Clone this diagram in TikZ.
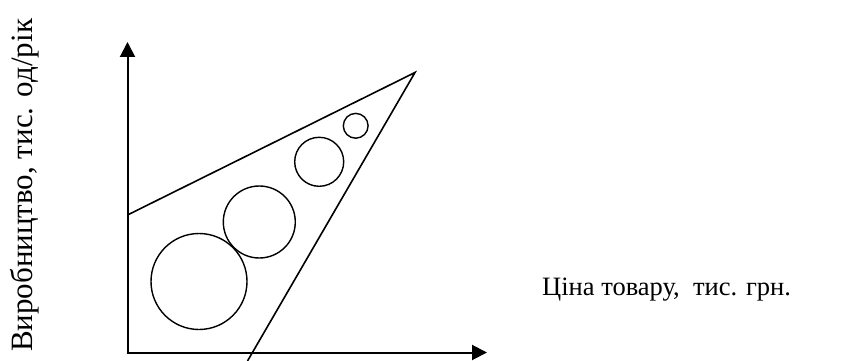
\documentclass[tikz,border=0pt]{standalone}
\usepackage{fontspec}
\setmainfont{Liberation Serif}
\usetikzlibrary{arrows.meta}
\begin{document}
\begin{tikzpicture}[x=1pt,y=-1pt,
  axis/.style={line width=2pt,-{Triangle[length=15pt,width=15pt]}},
  edge/.style={line width=1.6pt},
  ring/.style={line width=1.4pt},
  lbl/.style={inner sep=0pt}]
\useasboundingbox (0,0) rectangle (844,361);
\coordinate (O) at (127.5,352.5);
\coordinate (Ytop) at (127.5,42);
\coordinate (Xend) at (487,352.5);
\coordinate (A) at (127.5,215);
\coordinate (P) at (415,72.5);
\coordinate (B) at (247.5,361);
\draw[axis] (O) -- (Ytop);
\draw[axis] ([xshift=-1pt]O) -- (Xend);
\draw[edge] (A) -- (P) -- (B);
\node[ring,draw,circle,minimum size=96pt,inner sep=0pt] (c1) at (199,281.5) {};
\node[ring,draw,circle,minimum size=72pt,inner sep=0pt] (c2) at (259.3,222) {};
\node[ring,draw,circle,minimum size=49pt,inner sep=0pt] (c3) at (319.2,161.8) {};
\node[ring,draw,circle,minimum size=24.8pt,inner sep=0pt] (c4) at (355.7,125.8) {};
\node[lbl,font=\fontsize{31}{36}\selectfont,rotate=90,anchor=base west] (ylab) at (32,352) {Виробництво, тис. од/рік};
\node[lbl,font=\fontsize{26.5}{31}\selectfont,anchor=base west] (xlab) at (542,295) {Ціна товару,~ тис. грн.};
\end{tikzpicture}
\end{document}
